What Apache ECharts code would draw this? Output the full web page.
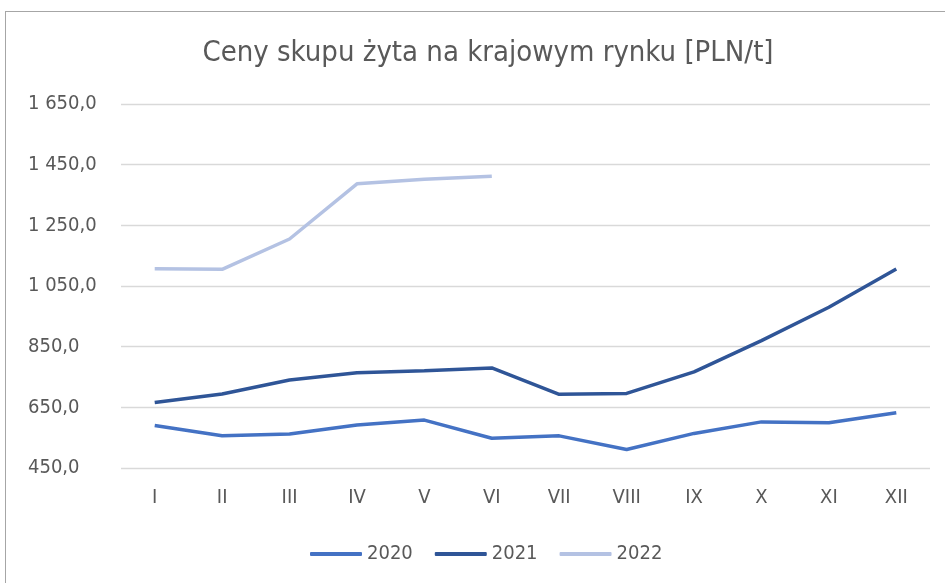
<!DOCTYPE html>
<html>
<head>
<meta charset="utf-8">
<script src="https://cdn.jsdelivr.net/npm/echarts@6/dist/echarts.min.js"></script>
<style>
  html, body { margin: 0; padding: 0; background: #fff; }
  #frame { position: absolute; left: 5px; top: 11px; width: 960px; height: 600px; border: 1px solid #a6a6a6; }
  #chartmain { position: absolute; left: 0; top: 0; width: 945px; height: 583px; }
</style>
</head>
<body>
<div id="frame"></div>
<div id="chartmain"></div>
<script>
var months = ['I', 'II', 'III', 'IV', 'V', 'VI', 'VII', 'VIII', 'IX', 'X', 'XI', 'XII'];
var y2020 = [590, 556, 562, 592, 608, 548, 556, 511, 564, 602, 599, 632];
var y2021 = [666, 694, 740, 764, 771, 780, 693, 696, 767, 870, 980, 1106];
var y2022 = [1107, 1105, 1205, 1387, 1402, 1412];

var fontName = "'Liberation Sans Narrow', 'DejaVu Sans Condensed', 'Liberation Sans', sans-serif";

function fmt(v) {
  // 1 650,0 style
  var s = Math.round(v).toString();
  if (s.length > 3) s = s.slice(0, s.length - 3) + ' ' + s.slice(s.length - 3);
  return s + ',0';
}

var option = {
  animation: false,
  title: {
    text: 'Ceny skupu żyta na krajowym rynku [PLN/t]',
    left: 483,
    top: 34,
    textAlign: 'center',
    textStyle: { fontFamily: fontName, fontSize: 29, fontWeight: 'normal', color: '#595959' }
  },
  legend: {
    data: ['2020', '2021', '2022'],
    left: 305,
    top: 539,
    itemWidth: 52,
    itemHeight: 4,
    itemGap: 22,
    icon: 'roundRect',
    textStyle: { fontFamily: fontName, fontSize: 20, color: '#595959' }
  },
  grid: { left: 121, right: 15, top: 104, bottom: 115 },
  xAxis: {
    type: 'category',
    data: months,
    boundaryGap: true,
    axisLine: { show: false },
    axisTick: { show: false },
    axisLabel: { fontFamily: fontName, fontSize: 20, color: '#595959', margin: 20 }
  },
  yAxis: {
    type: 'value',
    min: 450,
    max: 1650,
    interval: 200,
    axisLine: { show: false },
    axisTick: { show: false },
    splitLine: { lineStyle: { color: '#d9d9d9', width: 1.3 } },
    axisLabel: {
      fontFamily: fontName, fontSize: 20, color: '#595959',
      align: 'left', margin: 93,
      formatter: fmt
    }
  },
  series: [
    { name: '2020', type: 'line', data: y2020, symbol: 'none', lineStyle: { width: 3.5, color: '#4472C4' }, itemStyle: { color: '#4472C4' } },
    { name: '2021', type: 'line', data: y2021, symbol: 'none', lineStyle: { width: 3.5, color: '#2F5597' }, itemStyle: { color: '#2F5597' } },
    { name: '2022', type: 'line', data: y2022, symbol: 'none', lineStyle: { width: 3.5, color: '#B4C2E3' }, itemStyle: { color: '#B4C2E3' } }
  ]
};

var myChart = echarts.init(document.getElementById('chartmain'));
myChart.setOption(option);
</script>
</body>
</html>
